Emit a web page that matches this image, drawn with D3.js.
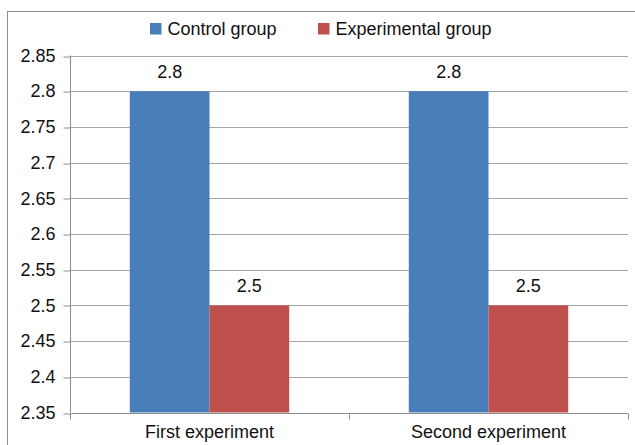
<!DOCTYPE html>
<html>
<head>
<meta charset="utf-8">
<script src="https://cdn.jsdelivr.net/npm/d3@7"></script>
<style>
  html, body { margin: 0; padding: 0; background: #fff; }
  svg { display: block; }
  text { font-family: "Liberation Sans", Arial, sans-serif; fill: #111; }
</style>
</head>
<body>
<svg id="chart" width="635" height="445"></svg>
<script>
const categories = ["First experiment", "Second experiment"];
const seriesNames = ["Control group", "Experimental group"];
const controlValues = [2.8, 2.8];
const experimentalValues = [2.5, 2.5];
const yTicks = [2.35, 2.4, 2.45, 2.5, 2.55, 2.6, 2.65, 2.7, 2.75, 2.8, 2.85];
const yTickLabels = ["2.35", "2.4", "2.45", "2.5", "2.55", "2.6", "2.65", "2.7", "2.75", "2.8", "2.85"];
const colors = ["#4a7ebb", "#c0504d"];

(function () {
const series = [controlValues, experimentalValues];
const svg = d3.select("#chart");
const fontSize = 18;

// outer border
svg.append("rect")
  .attr("x", 7.5).attr("y", 11.5)
  .attr("width", 640).attr("height", 450)
  .attr("fill", "none").attr("stroke", "#8c8c8c").attr("stroke-width", 1);

const pL = 70, pR = 628, pT = 55.5, pB = 412.5;

const y = d3.scaleLinear().domain([2.35, 2.85]).range([pB, pT]);
const x0 = d3.scaleBand().domain(categories).range([pL, pR]).paddingInner(0).paddingOuter(0);
// gap width 150%: band = 2w + 1.5w
const x1 = d3.scaleBand().domain(seriesNames).range([0, x0.bandwidth()]).paddingInner(0).paddingOuter(0.75);

// gridlines
svg.append("g").selectAll("line").data(yTicks.slice(1)).join("line")
  .attr("x1", pL).attr("x2", pR)
  .attr("y1", d => Math.round(y(d)) + 0.5).attr("y2", d => Math.round(y(d)) + 0.5)
  .attr("stroke", "#a6a6a6").attr("stroke-width", 1);

// bars
const groups = svg.append("g").selectAll("g").data(categories).join("g")
  .attr("transform", c => `translate(${x0(c)},0)`);

groups.each(function (c, ci) {
  const g = d3.select(this);
  seriesNames.forEach((s, si) => {
    const v = series[si][ci];
    g.append("rect")
      .attr("x", x1(s)).attr("width", x1.bandwidth())
      .attr("y", y(v)).attr("height", y(2.35) - y(v))
      .attr("fill", colors[si]);
    g.append("text")
      .attr("x", x1(s) + x1.bandwidth() / 2)
      .attr("y", y(v) - 13)
      .attr("text-anchor", "middle")
      .attr("font-size", fontSize)
      .text(v.toString());
  });
});

// y axis
const yAxis = d3.axisLeft(y).tickValues(yTicks)
  .tickFormat((d, i) => yTickLabels[i]).tickSize(7).tickPadding(8);
const gy = svg.append("g").attr("transform", `translate(${pL + 0.5},0)`).call(yAxis);
gy.selectAll("path, line").attr("stroke", "#8c8c8c");
gy.selectAll("text").attr("font-size", fontSize).attr("fill", "#111")
  .attr("font-family", '"Liberation Sans", Arial, sans-serif');
gy.select(".domain").attr("d", `M0,${pT}V${pB}`);
gy.selectAll(".tick line").attr("transform", d => `translate(0,${Math.round(y(d)) + 0.5 - y(d)})`);

// x axis
const gx = svg.append("g").attr("transform", `translate(0,${Math.round(pB) + 0.5})`);
gx.append("line").attr("x1", pL).attr("x2", pR).attr("stroke", "#8c8c8c");
const boundaries = [pL, ...categories.map(c => x0(c) + x0.bandwidth())];
gx.selectAll("line.tk").data(boundaries).join("line").attr("class", "tk")
  .attr("x1", d => Math.round(d) + 0.5).attr("x2", d => Math.round(d) + 0.5)
  .attr("y1", 0).attr("y2", 6).attr("stroke", "#8c8c8c");
gx.selectAll("text").data(categories).join("text")
  .attr("x", c => x0(c) + x0.bandwidth() / 2)
  .attr("y", 24.5)
  .attr("text-anchor", "middle")
  .attr("font-size", fontSize)
  .text(c => c);

// legend
const legendItems = [{ name: seriesNames[0], x: 150 }, { name: seriesNames[1], x: 318 }];
const lg = svg.append("g");
legendItems.forEach((it, i) => {
  lg.append("rect").attr("x", it.x).attr("y", 23).attr("width", 11.5).attr("height", 11.5).attr("fill", colors[i]);
  lg.append("text").attr("x", it.x + 17.5).attr("y", 35).attr("font-size", fontSize).text(it.name);
});
})();
</script>
</body>
</html>
